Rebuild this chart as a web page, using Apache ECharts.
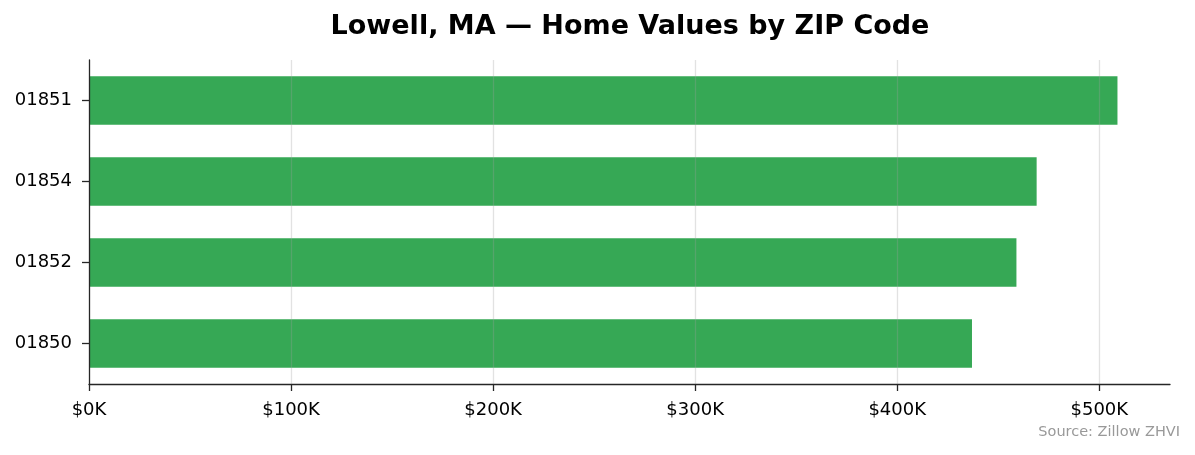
<!DOCTYPE html>
<html>
<head>
<meta charset="utf-8">
<script src="https://cdn.jsdelivr.net/npm/echarts@6/dist/echarts.min.js"></script>
<style>
    html, body { margin: 0; padding: 0; background: #fff; }
    #chart { width: 1195px; height: 455px; }
</style>
</head>
<body>
<div id="chart"></div>
<script>
// ZIP codes listed bottom to top
const zipCodes = ['01850', '01852', '01854', '01851'];
const homeValues = [437000, 459000, 469000, 509000];
const xTicks = [0, 100000, 200000, 300000, 400000, 500000];

function formatThousands(value) {
    return '$' + Math.round(value / 1000) + 'K';
}

const chart = echarts.init(document.getElementById('chart'), null, { renderer: 'canvas' });

chart.setOption({
    animation: false,
    textStyle: { fontFamily: 'DejaVu Sans' },
    title: {
        text: 'Lowell, MA \u2014 Home Values by ZIP Code',
        left: 625,
        top: 8,
        textAlign: 'center',
        textStyle: {
            fontFamily: 'DejaVu Sans',
            fontSize: 27,
            fontWeight: 'bold',
            color: '#000',
        },
    },
    grid: {
        left: 89,
        right: 25,
        top: 60,
        bottom: 71,
        containLabel: false,
    },
    xAxis: {
        type: 'value',
        min: xTicks[0],
        max: 535000,
        interval: xTicks[1] - xTicks[0],
        z: 5,
        axisLine: { show: true, lineStyle: { color: '#262626', width: 1.3 } },
        axisTick: { show: true, length: 7, lineStyle: { color: '#262626', width: 1.3 } },
        axisLabel: {
            color: '#000',
            fontSize: 18,
            margin: 17,
            formatter: formatThousands,
            showMaxLabel: false,
        },
        splitLine: {
            show: true,
            showMinLine: false,
            showMaxLine: false,
            lineStyle: { color: 'rgba(160,160,160,0.3)', width: 1.3 },
        },
    },
    yAxis: {
        type: 'category',
        data: zipCodes,
        z: 5,
        axisLine: { show: true, lineStyle: { color: '#262626', width: 1.3 } },
        axisTick: { show: true, alignWithLabel: true, length: 7, lineStyle: { color: '#262626', width: 1.3 } },
        axisLabel: {
            color: '#000',
            fontSize: 18,
            margin: 17,
        },
        splitLine: { show: false },
    },
    graphic: [{
        type: 'text',
        right: 15,
        top: 425,
        style: {
            text: 'Source: Zillow ZHVI',
            fontFamily: 'DejaVu Sans',
            fontSize: 14.5,
            fill: '#999',
        },
    }],
    series: [{
        type: 'bar',
        data: homeValues,
        barWidth: '60%',
        itemStyle: { color: '#36a855' },
    }],
});
</script>
</body>
</html>
